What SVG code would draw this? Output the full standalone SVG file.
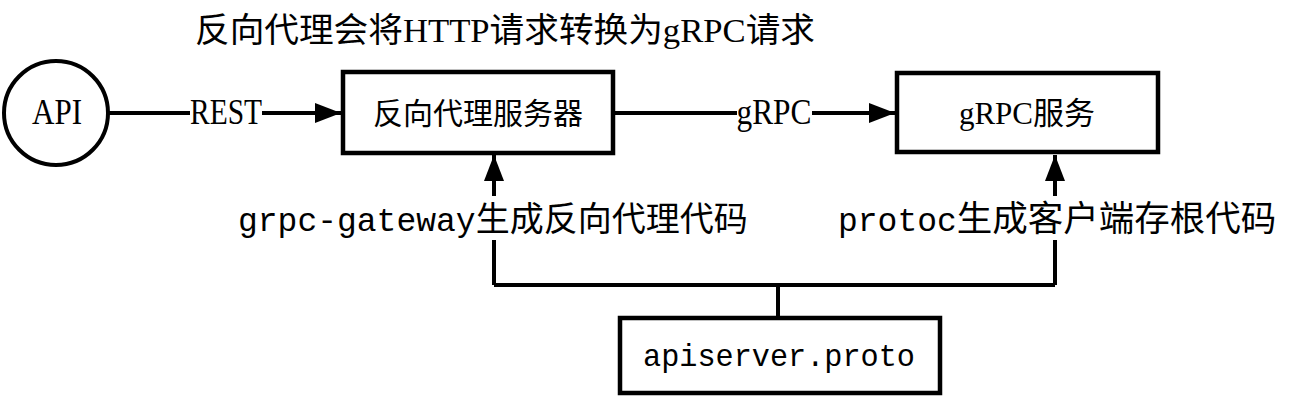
<svg xmlns="http://www.w3.org/2000/svg" width="1299" height="401" viewBox="0 0 1299 401">
<style>
.box{fill:#fff;stroke:#000;stroke-width:4.5}
.ln{fill:none;stroke:#000;stroke-width:4}
.t{font-family:'Liberation Serif','Noto Sans CJK SC',serif;fill:#000}
.m{font-family:'Liberation Mono','Noto Sans CJK SC',monospace}
.bg{fill:#fff}
</style>
<defs>
<marker id="ah" markerUnits="userSpaceOnUse" markerWidth="26" markerHeight="20" refX="26" refY="10" orient="auto">
<path d="M0,0 L26,10 L0,20 z" fill="#000"/>
</marker>
</defs>
<rect width="1299" height="401" fill="#fff"/>
<text class="t" x="195" y="42" font-size="34" textLength="620" lengthAdjust="spacingAndGlyphs">反向代理会将HTTP请求转换为gRPC请求</text>
<g id="connectors">
<path class="ln" d="M108,113 H341" marker-end="url(#ah)"/>
<rect class="bg" x="190" y="95" width="72" height="36"/>
<text class="t" x="226" y="124" font-size="35" text-anchor="middle" textLength="72" lengthAdjust="spacingAndGlyphs">REST</text>
<path class="ln" d="M613,113 H895" marker-end="url(#ah)"/>
<rect class="bg" x="737" y="95" width="75" height="36"/>
<text class="t" x="774" y="124" font-size="35" text-anchor="middle" textLength="75" lengthAdjust="spacingAndGlyphs">gRPC</text>
<path class="ln" d="M494,285 V155" marker-end="url(#ah)"/>
<path class="ln" d="M1055,285 V155" marker-end="url(#ah)"/>
<path class="ln" d="M494,285 H1055 M778,285 V318"/>
<rect class="bg" x="236" y="196" width="514" height="44"/>
<text class="t" x="238" y="231" font-size="34"><tspan class="m" font-size="33">grpc-gateway</tspan>生成反向代理代码</text>
<rect class="bg" x="836" y="196" width="444" height="44"/>
<text class="t" x="838" y="231" font-size="35.5"><tspan class="m" font-size="33">protoc</tspan>生成客户端存根代码</text>
</g>
<g id="api">
<circle cx="56" cy="113" r="52" fill="#fff" stroke="#000" stroke-width="4"/>
<text class="t" x="57" y="124" font-size="35" text-anchor="middle" textLength="50" lengthAdjust="spacingAndGlyphs">API</text>
</g>
<g id="proxy">
<rect class="box" x="343" y="72" width="270" height="81"/>
<text class="t" x="478" y="124" font-size="30" text-anchor="middle">反向代理服务器</text>
</g>
<g id="grpc">
<rect class="box" x="897" y="73" width="261" height="79"/>
<text class="t" x="1027" y="124" font-size="31" text-anchor="middle">gRPC服务</text>
</g>
<g id="proto">
<rect class="box" x="620" y="318" width="320" height="75"/>
<text class="t m" x="779" y="366" font-size="32" text-anchor="middle" textLength="272" lengthAdjust="spacingAndGlyphs">apiserver.proto</text>
</g>
</svg>
